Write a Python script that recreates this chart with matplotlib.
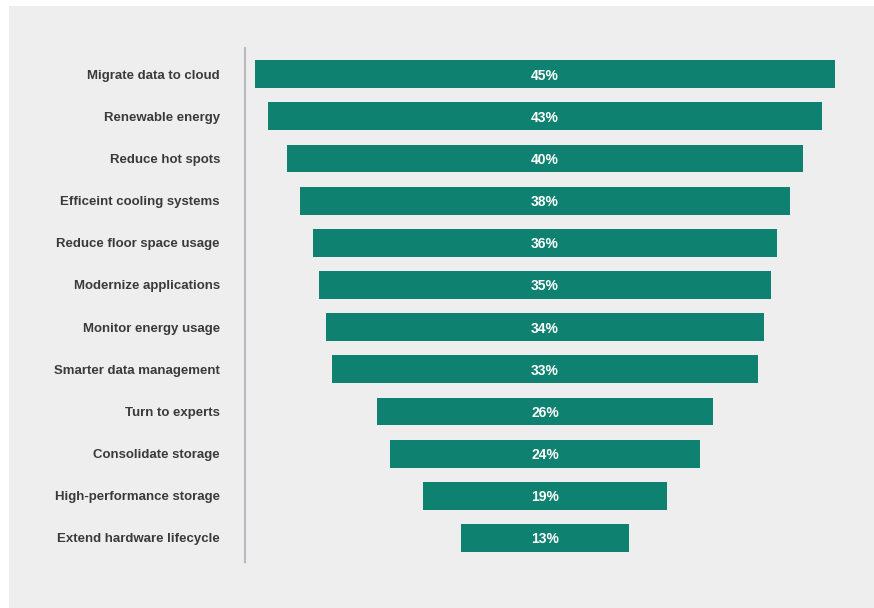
#!/usr/bin/env python3
"""Funnel-style centered bar chart of data centre sustainability actions."""

import matplotlib
matplotlib.use('Agg')
import matplotlib.pyplot as plt
import matplotlib.patches as mpatches
import numpy as np

# Data (top to bottom)
actions = [
    'Migrate data to cloud',
    'Renewable energy',
    'Reduce hot spots',
    'Efficeint cooling systems',
    'Reduce floor space usage',
    'Modernize applications',
    'Monitor energy usage',
    'Smarter data management',
    'Turn to experts',
    'Consolidate storage',
    'High-performance storage',
    'Extend hardware lifecycle',
]
shares = [45, 43, 40, 38, 36, 35, 34, 33, 26, 24, 19, 13]

# Colour scheme
COLORS = {
    'bar': '#0e8170',
    'panel': '#eeeeee',
    'text': '#3a3a3a',
    'axis': '#b9b9bd',
}

plt.rcParams['font.family'] = ['Liberation Sans', 'DejaVu Sans']

fig = plt.figure(figsize=(8.74, 6.08), dpi=100)
fig.patch.set_facecolor('white')

# light grey panel behind the chart
fig.patches.append(mpatches.Rectangle((9 / 874, 0), 1 - 9 / 874, 1 - 6 / 608,
                                      transform=fig.transFigure,
                                      facecolor=COLORS['panel'], edgecolor='none',
                                      zorder=-10))

ax = fig.add_axes([245 / 874, 46 / 608, 600 / 874, 514 / 608])
ax.set_facecolor('none')

y = np.arange(len(actions))
vals = np.array(shares, dtype=float)

# centred bars -> funnel shape
ax.barh(y, vals, left=-vals / 2, height=0.66, color=COLORS['bar'])

for pos, val in zip(y, shares):
    ax.text(0, pos, f'{val}%', ha='center', va='center_baseline', color='white',
            fontsize=10, fontweight='bold')

half = 300 / 12.89
ax.set_xlim(-half, half)
ax.set_ylim(len(actions) - 0.43, -0.62)

ax.set_yticks(y)
ax.set_yticklabels(actions, fontsize=9.5, fontweight='bold', color=COLORS['text'])
ax.tick_params(axis='y', length=0, pad=18)
ax.set_xticks([])

for side in ['top', 'right', 'bottom']:
    ax.spines[side].set_visible(False)
ax.spines['left'].set_color(COLORS['axis'])
ax.spines['left'].set_linewidth(1.5)

plt.savefig('out.png', dpi=100, facecolor='white')
plt.close()
